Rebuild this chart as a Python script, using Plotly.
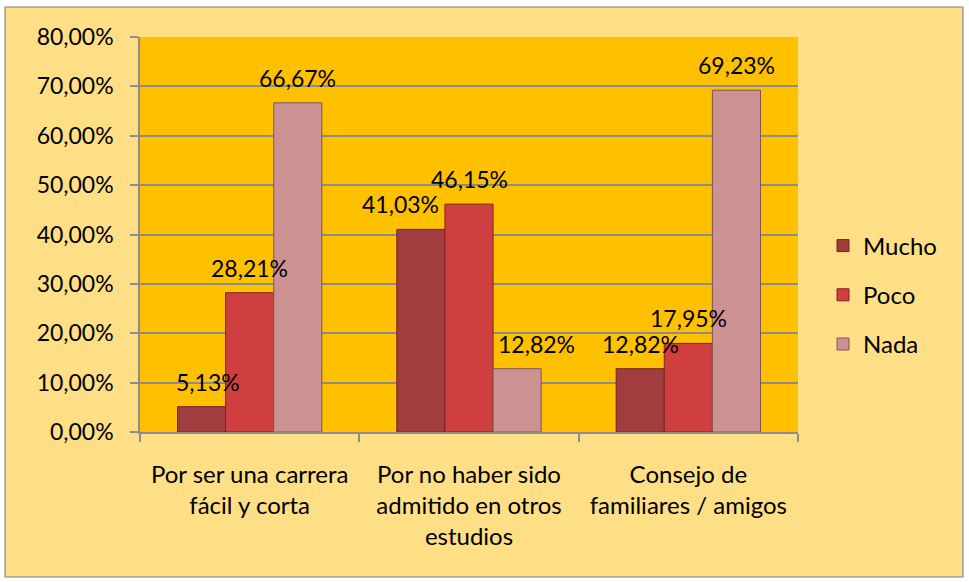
import plotly.graph_objects as go

categories = ["Por ser una carrera<br>fácil y corta",
              "Por no haber sido<br>admitido en otros<br>estudios",
              "Consejo de<br>familiares / amigos"]
series_names = ["Mucho", "Poco", "Nada"]
mucho = [0.0513, 0.4103, 0.1282]
poco = [0.2821, 0.4615, 0.1795]
nada = [0.6667, 0.1282, 0.6923]
y_ticks = [0, 0.1, 0.2, 0.3, 0.4, 0.5, 0.6, 0.7, 0.8]

values = [mucho, poco, nada]
colors = ["#A23D3F", "#CF3F3F", "#CC9292"]
line_colors = ["#6E2426", "#7E2224", "#7E5656"]

FONT = "Lato"
W, H = 969, 582
ML, MR, MT, MB = 140, 171, 37, 150
plot_w = W - ML - MR
plot_h = H - MT - MB
bargap = 0.342
bar_px = plot_w / len(categories) * (1 - bargap) / len(series_names)


def px_x(p):
    return (p - ML) / plot_w


def px_y(p):
    return (H - MB - p) / plot_h


# small label nudges (px) to follow the reference layout
label_nudge = {(1, 0): -20, (1, 2): 19, (0, 0): 6}

fig = go.Figure()
for i, (name, vals) in enumerate(zip(series_names, values)):
    fig.add_trace(go.Bar(
        name=name, x=categories, y=vals,
        marker=dict(color=colors[i], line=dict(color=line_colors[i], width=1)),
        legendgroup=name,
    ))

annotations = []
for i, vals in enumerate(values):
    for j, v in enumerate(vals):
        annotations.append(dict(
            x=categories[j], y=v, xref="x", yref="y",
            text=f"{v*100:.2f}%".replace(".", ","),
            showarrow=False, yanchor="middle",
            yshift=25, xshift=(i - 1) * bar_px + label_nudge.get((j, i), 0),
            font=dict(family=FONT, size=23, color="#000000"),
        ))

white = "#FFFFFF"
shapes = [
    dict(type="rect", xref="paper", yref="paper",
         x0=px_x(5), x1=px_x(963), y0=px_y(577), y1=px_y(7),
         line=dict(color="#9A9A9A", width=1.5), fillcolor="rgba(0,0,0,0)",
         layer="below"),
    # white page strips outside the chart frame
    dict(type="rect", xref="paper", yref="paper", x0=px_x(0), x1=px_x(W),
         y0=px_y(6.2), y1=px_y(0), fillcolor=white, line_width=0, layer="above"),
    dict(type="rect", xref="paper", yref="paper", x0=px_x(0), x1=px_x(W),
         y0=px_y(H), y1=px_y(577.8), fillcolor=white, line_width=0, layer="above"),
    dict(type="rect", xref="paper", yref="paper", x0=px_x(0), x1=px_x(4.2),
         y0=px_y(H), y1=px_y(0), fillcolor=white, line_width=0, layer="above"),
    dict(type="rect", xref="paper", yref="paper", x0=px_x(963.8), x1=px_x(W),
         y0=px_y(H), y1=px_y(0), fillcolor=white, line_width=0, layer="above"),
]

fig.update_layout(
    width=W, height=H,
    margin=dict(l=ML, r=MR, t=MT, b=MB),
    paper_bgcolor="#FEDF85",
    plot_bgcolor="#FFC000",
    separators=",.",
    barmode="group",
    bargap=bargap,
    bargroupgap=0,
    showlegend=True,
    legend=dict(
        x=px_x(823), y=px_y(295),
        xanchor="left", yanchor="middle",
        font=dict(family=FONT, size=24, color="#000000"),
        bgcolor="rgba(0,0,0,0)",
        tracegroupgap=15,
        itemwidth=30,
    ),
    font=dict(family=FONT, size=23, color="#000000"),
    annotations=annotations,
    shapes=shapes,
)
fig.update_yaxes(
    range=[0, 0.8], tickvals=y_ticks, tickformat=".2%",
    showgrid=True, gridcolor="#8C8C8C", gridwidth=1.5,
    ticks="outside", ticklen=8, tickcolor="#8C8C8C", tickwidth=1.5,
    showline=True, linecolor="#8C8C8C", linewidth=1.5,
    zeroline=False, ticklabelstandoff=12,
    tickfont=dict(family=FONT, size=23, color="#000000"),
)
fig.update_xaxes(
    tickson="boundaries", ticks="outside", ticklen=8,
    tickcolor="#8C8C8C", tickwidth=1.5,
    showline=True, linecolor="#8C8C8C", linewidth=1.5,
    showgrid=False, ticklabelstandoff=20,
    tickfont=dict(family=FONT, size=24, color="#000000"),
)

fig.write_html("out.html", config={"displayModeBar": False},
               post_script="document.body.style.margin='0';")
